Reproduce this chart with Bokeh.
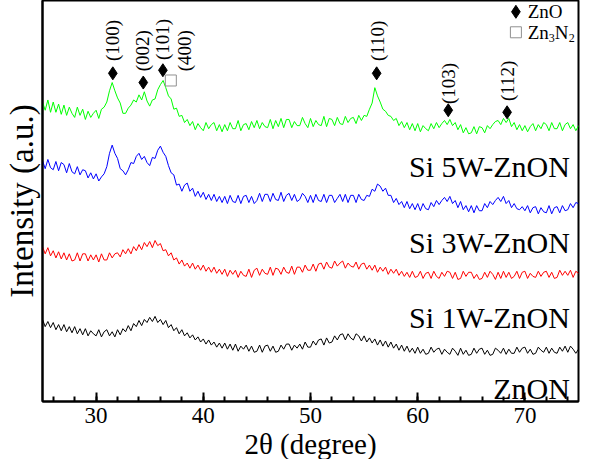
import numpy as np
from bokeh.plotting import figure
from bokeh.models import Range1d, SingleIntervalTicker, FixedTicker, Title
from bokeh.core.properties import value
from bokeh.embed import file_html
from bokeh.resources import INLINE

# 2-theta sampling grid (degrees)
two_theta = np.linspace(25, 75, 201)

# Intensities (a.u., stacked offsets as in the figure)
zn_on = [
    87, 80, 85, 79, 84, 77, 82, 76, 82, 75, 80, 74, 80, 73, 78, 72, 78, 71, 76, 73,
    71, 77, 70, 75, 77, 71, 75, 70, 77, 72, 78, 75, 81, 76, 83, 80, 86, 81, 87, 84,
    89, 85, 90, 84, 87, 82, 86, 79, 82, 76, 79, 73, 77, 71, 74, 69, 72, 67, 70, 65,
    68, 63, 67, 62, 65, 60, 64, 59, 64, 58, 63, 57, 63, 56, 61, 58, 62, 56, 61, 55,
    56, 62, 55, 61, 62, 56, 61, 55, 56, 62, 58, 63, 63, 57, 62, 59, 63, 58, 65, 60,
    60, 66, 62, 67, 68, 62, 69, 64, 65, 71, 67, 72, 73, 67, 73, 69, 67, 73, 71, 66,
    71, 65, 69, 64, 68, 62, 67, 61, 66, 60, 65, 59, 63, 57, 62, 56, 61, 55, 59, 54,
    60, 54, 58, 53, 54, 60, 55, 58, 59, 53, 58, 55, 53, 59, 56, 52, 59, 53, 57, 52,
    53, 59, 54, 58, 59, 53, 57, 52, 53, 59, 57, 54, 59, 53, 58, 54, 54, 60, 55, 59,
    60, 54, 58, 53, 54, 60, 57, 55, 60, 54, 59, 55, 54, 60, 56, 61, 55, 61, 58, 54,
    58,
]
si_1w = [
    158, 151, 157, 149, 154, 147, 153, 146, 152, 145, 151, 144, 145, 152, 144, 151, 151, 144, 150, 145,
    150, 143, 151, 145, 145, 152, 147, 151, 152, 148, 155, 151, 156, 151, 158, 154, 160, 155, 162, 158,
    163, 157, 164, 159, 161, 154, 155, 149, 152, 145, 147, 141, 145, 139, 142, 137, 142, 136, 140, 135,
    140, 134, 138, 133, 138, 132, 136, 131, 136, 129, 135, 131, 135, 128, 134, 130, 129, 136, 128, 135,
    137, 130, 136, 132, 131, 138, 130, 137, 136, 131, 138, 133, 132, 139, 131, 138, 138, 133, 140, 135,
    135, 141, 134, 141, 142, 136, 143, 138, 137, 144, 139, 142, 144, 137, 142, 139, 138, 143, 136, 141,
    142, 136, 140, 135, 140, 133, 138, 134, 138, 131, 136, 132, 136, 130, 134, 129, 133, 128, 134, 128,
    129, 134, 127, 132, 133, 127, 134, 129, 127, 133, 129, 134, 133, 127, 133, 126, 127, 134, 129, 133,
    133, 127, 131, 126, 127, 133, 128, 134, 131, 126, 133, 127, 134, 128, 133, 127, 129, 134, 127, 133,
    134, 127, 132, 129, 128, 134, 129, 133, 134, 128, 133, 127, 128, 135, 130, 134, 130, 135, 128, 134,
    132,
]
si_3w = [
    242, 234, 243, 235, 233, 241, 232, 240, 238, 230, 239, 231, 229, 236, 228, 233, 232, 225, 230, 224,
    229, 222, 226, 229, 236, 249, 257, 249, 244, 234, 232, 228, 233, 240, 239, 246, 249, 243, 246, 240,
    237, 245, 244, 252, 256, 250, 246, 237, 230, 228, 218, 219, 212, 218, 220, 212, 215, 207, 212, 206,
    211, 204, 209, 203, 209, 202, 207, 201, 207, 200, 208, 202, 201, 208, 200, 207, 208, 201, 207, 200,
    203, 210, 202, 209, 209, 202, 210, 204, 203, 211, 202, 208, 210, 203, 209, 202, 204, 210, 207, 201,
    208, 201, 209, 203, 202, 209, 201, 208, 208, 201, 205, 209, 202, 209, 201, 208, 208, 201, 209, 204,
    203, 208, 207, 214, 212, 219, 217, 212, 215, 208, 208, 201, 205, 199, 202, 196, 202, 195, 200, 194,
    200, 193, 200, 195, 194, 201, 197, 203, 199, 203, 206, 202, 207, 200, 203, 196, 202, 194, 198, 192,
    198, 191, 198, 193, 193, 200, 196, 202, 199, 203, 206, 202, 207, 200, 203, 196, 200, 195, 194, 197,
    193, 198, 191, 196, 197, 190, 196, 192, 191, 198, 190, 196, 197, 191, 198, 193, 194, 200, 196, 201,
    200,
]
si_5w = [
    299, 291, 301, 289, 299, 289, 297, 287, 296, 286, 294, 288, 284, 294, 286, 292, 282, 290, 284, 288,
    291, 283, 292, 294, 299, 310, 318, 310, 303, 298, 288, 288, 293, 296, 301, 299, 306, 301, 309, 300,
    295, 301, 302, 311, 316, 320, 313, 305, 302, 292, 293, 285, 286, 279, 282, 276, 280, 272, 278, 274,
    271, 279, 273, 277, 279, 271, 277, 270, 277, 271, 279, 273, 273, 281, 271, 277, 278, 272, 280, 274,
    281, 273, 279, 275, 274, 282, 273, 281, 275, 283, 274, 282, 282, 274, 280, 276, 276, 284, 278, 274,
    283, 275, 281, 277, 276, 285, 275, 283, 282, 276, 284, 278, 277, 285, 279, 283, 284, 278, 286, 281,
    286, 285, 292, 298, 313, 305, 299, 292, 290, 286, 285, 281, 283, 276, 280, 274, 279, 272, 278, 271,
    278, 270, 276, 273, 271, 278, 273, 279, 274, 278, 281, 277, 282, 276, 279, 272, 277, 269, 274, 268,
    269, 275, 268, 275, 274, 269, 276, 273, 277, 280, 281, 277, 283, 279, 283, 275, 279, 272, 277, 271,
    276, 270, 275, 278, 271, 277, 273, 279, 277, 271, 279, 273, 273, 279, 271, 277, 279, 273, 277, 271,
    276,
]

series_colors = ["black", "#ff0000", "#0000ff", "#00ff00"]
series_names = ["ZnON", "Si 1W-ZnON", "Si 3W-ZnON", "Si 5W-ZnON"]
name_x = [74.2, 74.2, 74.2, 74.2]
name_y = [20, 89, 162, 236]

# peak annotations
peak_labels = ["(100)", "(002)", "(101)", "(400)", "(110)", "(103)", "(112)"]
peak_label_x = [31.56, 34.3, 36.2, 38.2, 56.25, 62.85, 68.34]
peak_label_y = [339, 329, 340, 329, 339, 297, 300]
zno_peak_x = [31.56, 34.4, 36.23, 56.17, 62.85, 68.34]
zno_peak_y = [327, 318, 330, 327, 291, 289]
zn3n2_peak_x = [36.97]
zn3n2_peak_y = [320]

x_ticks_interval = 10
x_title = "2θ (degree)"
y_title = "Intensity (a.u.)"

FONT = "'Liberation Serif', 'Times New Roman', serif"
SERIF = value(FONT)

p = figure(width=580, height=459, output_backend="svg", toolbar_location=None,
           x_range=Range1d(25, 75), y_range=Range1d(7, 398),
           min_border_left=38, min_border_right=2, min_border_top=0, min_border_bottom=10)
p.xgrid.visible = False
p.ygrid.visible = False
p.outline_line_color = "black"
p.outline_line_width = 2
p.background_fill_color = "white"
p.border_fill_color = "white"

for ys, c in zip([zn_on, si_1w, si_3w, si_5w], series_colors):
    p.line(two_theta, ys, line_color=c, line_width=1)

# x axis
xa = p.xaxis[0]
xa.ticker = SingleIntervalTicker(interval=x_ticks_interval, num_minor_ticks=5)
xa.major_tick_in = 9
xa.major_tick_out = 0
xa.minor_tick_in = 5
xa.minor_tick_out = 0
xa.major_tick_line_width = 2
xa.minor_tick_line_width = 2
xa.axis_line_width = 2
xa.major_label_text_font = FONT
xa.major_label_text_font_size = "23px"
xa.major_label_text_color = "black"
xa.major_label_standoff = 6

p.add_layout(Title(text=x_title, align="center", text_font=FONT, text_font_size="29px",
                   text_font_style="normal", text_color="black", standoff=0,
                   vertical_align="bottom"), "below")

ya = p.yaxis[0]
ya.ticker = FixedTicker(ticks=[])
ya.axis_line_width = 2
ya.major_tick_line_color = None
ya.minor_tick_line_color = None
ya.axis_label = y_title
ya.axis_label_text_font = FONT
ya.axis_label_text_font_size = "33px"
ya.axis_label_text_font_style = "normal"
ya.axis_label_text_color = "black"
ya.axis_label_standoff = 3

# sample names
p.text(name_x, name_y, text=series_names, text_font=SERIF, text_font_size="30px",
       text_align="right", text_baseline="alphabetic", text_color="black")

# peak labels
p.text(peak_label_x, peak_label_y, text=peak_labels, angle=np.pi / 2, text_font=SERIF,
       text_font_size="19px", text_align="left", text_baseline="middle", text_color="black")
p.scatter(zno_peak_x, zno_peak_y, marker="diamond", size=13, fill_color="black", line_color="black")
p.scatter(zn3n2_peak_x, zn3n2_peak_y, marker="square", size=11, fill_color=None,
          line_color="#909090", line_width=1)

# legend
p.scatter([69.16], [387], marker="diamond", size=13, fill_color="black", line_color="black")
p.scatter([69.16], [367], marker="square", size=11, fill_color=None, line_color="#909090", line_width=1)
p.text([70.26], [387], text=["ZnO"], text_font=SERIF, text_font_size="19px",
       text_align="left", text_baseline="middle", text_color="black")
p.text([70.26], [367], text=["Zn"], text_font=SERIF, text_font_size="19px",
       text_align="left", text_baseline="middle", text_color="black")
p.text([70.26], [367], text=["3"], x_offset=21, y_offset=6, text_font=SERIF, text_font_size="12px",
       text_align="left", text_baseline="middle", text_color="black")
p.text([70.26], [367], text=["N"], x_offset=27, text_font=SERIF, text_font_size="19px",
       text_align="left", text_baseline="middle", text_color="black")
p.text([70.26], [367], text=["2"], x_offset=41, y_offset=6, text_font=SERIF, text_font_size="12px",
       text_align="left", text_baseline="middle", text_color="black")

open("out.html", "w").write(file_html(p, INLINE))
